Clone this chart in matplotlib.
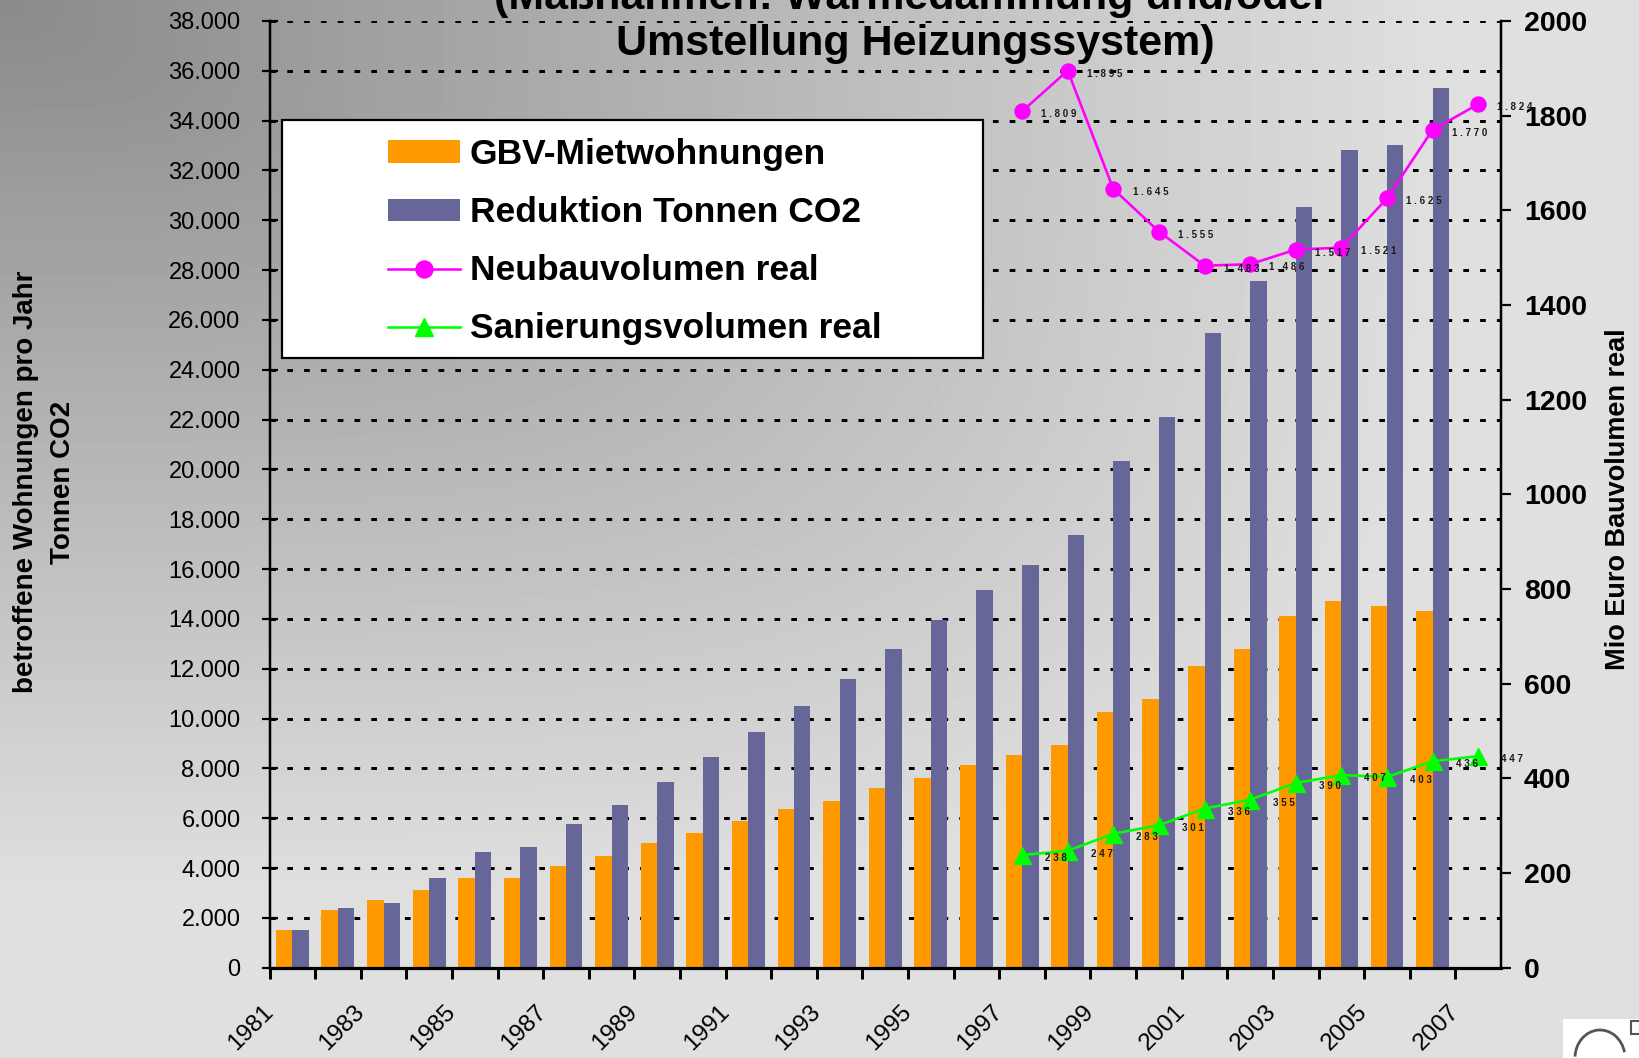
import numpy as np
import matplotlib
matplotlib.use("Agg")
import matplotlib.pyplot as plt
from matplotlib.patches import Rectangle, Patch, Arc
from matplotlib.lines import Line2D
from matplotlib.ticker import FuncFormatter
from matplotlib.transforms import ScaledTranslation

plt.rcParams['font.family'] = ['Liberation Sans', 'DejaVu Sans']

# ---------------- data ----------------
years = list(range(1981, 2008))          # category axis 1981..2007
bar_years = list(range(1981, 2007))      # bars 1981..2006
gbv_mietwohnungen = [1500, 2300, 2700, 3100, 3600, 3600, 4100, 4500, 5000, 5400,
                     5900, 6350, 6700, 7200, 7600, 8150, 8550, 8950, 10250, 10800,
                     12100, 12800, 14100, 14700, 14500, 14300]
reduktion_co2 = [1500, 2400, 2600, 3600, 4650, 4850, 5750, 6550, 7450, 8450,
                 9450, 10500, 11580, 12790, 13950, 15150, 16170, 17370, 20320, 22120,
                 25490, 27570, 30520, 32830, 33020, 35300]
line_years = list(range(1997, 2008))
neubauvolumen = [1809, 1895, 1645, 1555, 1483, 1486, 1517, 1521, 1625, 1770, 1824]
sanierungsvolumen = [238, 247, 283, 301, 336, 355, 390, 407, 403, 436, 447]
left_ticks = list(range(0, 38001, 2000))
right_ticks = list(range(0, 2001, 200))

title_lines = ["(Maßnahmen: Wärmedämmung und/oder", "Umstellung Heizungssystem)"]
legend_labels = ["GBV-Mietwohnungen", "Reduktion Tonnen CO2",
                 "Neubauvolumen real", "Sanierungsvolumen real"]

W, H = 1640, 1058
PX = 72.0 / 100.0  # points per pixel at dpi 100

fig = plt.figure(figsize=(W / 100, H / 100), dpi=100)

# background gradient
bg = fig.add_axes([0, 0, 1, 1], zorder=-10)
yy, xx = np.mgrid[0:H, 0:W]
t = ((xx / 1450.0) ** 4 + (yy / 900.0) ** 4) ** 0.25
t = np.clip(t, 0, 1)
val = (138 + 86 * t) / 255.0
bg.imshow(val, cmap='gray', vmin=0, vmax=1, extent=[0, W, H, 0], aspect='auto',
          interpolation='bilinear')
bg.set_xlim(0, W)
bg.set_ylim(H, 0)
bg.axis('off')

def bgcol(x, y):
    tt = min(1.0, ((x / 1450.0) ** 4 + (y / 900.0) ** 4) ** 0.25)
    g = (138 + 86 * tt) / 255.0
    return (g, g, g)

# main axes
x0, x1, ytop, ybot = 269.5, 1501.0, 20.9, 967.7
ax = fig.add_axes([x0 / W, 1 - ybot / H, (x1 - x0) / W, (ybot - ytop) / H])
ax.patch.set_alpha(0)
ax2 = ax.twinx()
ax2.patch.set_alpha(0)

bx = np.array([years.index(y) for y in bar_years])
bw = 0.36
ax.bar(bx - bw / 2, gbv_mietwohnungen, width=bw, color='#FF9900', zorder=2, linewidth=0)
ax.bar(bx + bw / 2, reduktion_co2, width=bw, color='#666699', zorder=2, linewidth=0)

ax.set_xlim(-0.5, len(years) - 0.5)
ax.set_ylim(0, 38000)
ax.set_yticks(left_ticks)
ax.yaxis.set_major_formatter(FuncFormatter(lambda v, p: f"{int(v):,}".replace(',', '.')))
ax.set_axisbelow(True)
ax.yaxis.grid(True, color='black', linewidth=3 * PX, linestyle=(0, (1.9, 3.7)))

xt = np.arange(len(years)) - 0.5
ax.set_xticks(xt)
ax.set_xticklabels([str(y) if i % 2 == 0 else '' for i, y in enumerate(years)],
                   rotation=45, ha='right', va='center', rotation_mode='anchor')
ax.tick_params(axis='x', direction='out', length=10.5 * PX, width=3 * PX,
               labelsize=17.5, pad=30 * PX, colors='black')
ax.tick_params(axis='y', direction='inout', length=16 * PX, width=2.2 * PX,
               labelsize=17, pad=21 * PX)
for lbl in ax.get_xticklabels():
    lbl.set_transform(lbl.get_transform() + ScaledTranslation(0 / 100, 0, fig.dpi_scale_trans))

for s in ['top', 'right']:
    ax.spines[s].set_visible(False)
ax.spines['left'].set_linewidth(2.5 * PX)
ax.spines['bottom'].set_linewidth(3.2 * PX)

# secondary axis
ax2.set_ylim(0, 2000)
ax2.set_yticks(right_ticks)
ax2.set_yticklabels([str(v) for v in right_ticks], fontweight='bold', fontsize=20.5)
ax2.tick_params(axis='y', direction='out', length=10 * PX, width=2.2 * PX, pad=13 * PX)
for s in ['top', 'left', 'bottom']:
    ax2.spines[s].set_visible(False)
ax2.spines['right'].set_linewidth(2.5 * PX)
for lbl in ax2.get_yticklabels():
    lbl.set_bbox(dict(facecolor=bgcol(1550, 100), edgecolor='none', pad=0))

lx = [years.index(y) for y in line_years]
ax2.plot(lx, neubauvolumen, color='#FF00FF', lw=2.6 * PX, marker='o',
         ms=15 * PX, zorder=2, clip_on=False)
ax2.plot(lx, sanierungsvolumen, color='#00FF00', lw=2.6 * PX, marker='^',
         ms=17 * PX, zorder=2, clip_on=False)

def spaced(v):
    s = f"{v:,}".replace(',', '.')
    return ' '.join(s)

for xi, v in zip(lx, neubauvolumen):
    ax2.annotate(spaced(v), (xi, v), xytext=(37 * PX, -3 * PX), textcoords='offset points',
                 ha='center', va='center', fontsize=7, fontweight='bold', color='#1a1a1a',
                 zorder=2.4, annotation_clip=False)
for xi, v in zip(lx, sanierungsvolumen):
    ax2.annotate(spaced(v), (xi, v), xytext=(34 * PX, -3 * PX), textcoords='offset points',
                 ha='center', va='center', fontsize=7, fontweight='bold', color='#1a1a1a',
                 zorder=2.4, annotation_clip=False)

# legend
rect = Rectangle((282 / W, 1 - 358 / H), 701 / W, 238 / H, transform=fig.transFigure,
                 facecolor='white', edgecolor='black', linewidth=2.2 * PX, zorder=5)
fig.add_artist(rect)
handles = [Patch(facecolor='#FF9900', edgecolor='none'),
           Patch(facecolor='#666699', edgecolor='none'),
           Line2D([], [], color='#FF00FF', lw=2.6 * PX, marker='o', ms=17 * PX),
           Line2D([], [], color='#00FF00', lw=2.6 * PX, marker='^', ms=18 * PX)]
leg = fig.legend(handles, legend_labels, loc='upper left',
                 bbox_to_anchor=(388 / W, 1 - 138 / H), frameon=False, borderpad=0,
                 borderaxespad=0, handlelength=2.03, handleheight=0.58,
                 handletextpad=0.28, labelspacing=0.71,
                 prop=dict(family='Liberation Sans', weight='bold', size=25.5))
leg.set_zorder(6)

# titles and axis labels
fig.text(912 / W, 1 - (-2) / H, title_lines[0], ha='center', va='center',
         fontsize=31, fontweight='bold', zorder=7)
fig.text(915 / W, 1 - 44 / H, title_lines[1], ha='center', va='center',
         fontsize=31, fontweight='bold', zorder=7)
fig.text(45 / W, 1 - 482 / H, "betroffene Wohnungen pro Jahr\nTonnen CO2", rotation=90,
         ha='center', va='center', multialignment='center', fontsize=20,
         fontweight='bold', linespacing=1.55)
fig.text(1618 / W, 1 - 499 / H, "Mio Euro Bauvolumen real", rotation=90,
         ha='center', va='center', fontsize=19.5, fontweight='bold')

# corner logo fragment
fig.add_artist(Rectangle((1563 / W, 0), 77 / W, 39 / H, transform=fig.transFigure,
                         facecolor='white', edgecolor='none', zorder=8))
fig.add_artist(Arc((1600 / W, 1 - 1058 / H), 50 / W, 56 / H, theta1=20, theta2=175,
                   transform=fig.transFigure, color='#555555', lw=2, zorder=9))
fig.add_artist(Rectangle((1631 / W, 1 - 1034 / H), 9 / W, 13 / H, transform=fig.transFigure,
                         facecolor='none', edgecolor='#555555', lw=1.5, zorder=9))

fig.savefig('out.png', dpi=100)
